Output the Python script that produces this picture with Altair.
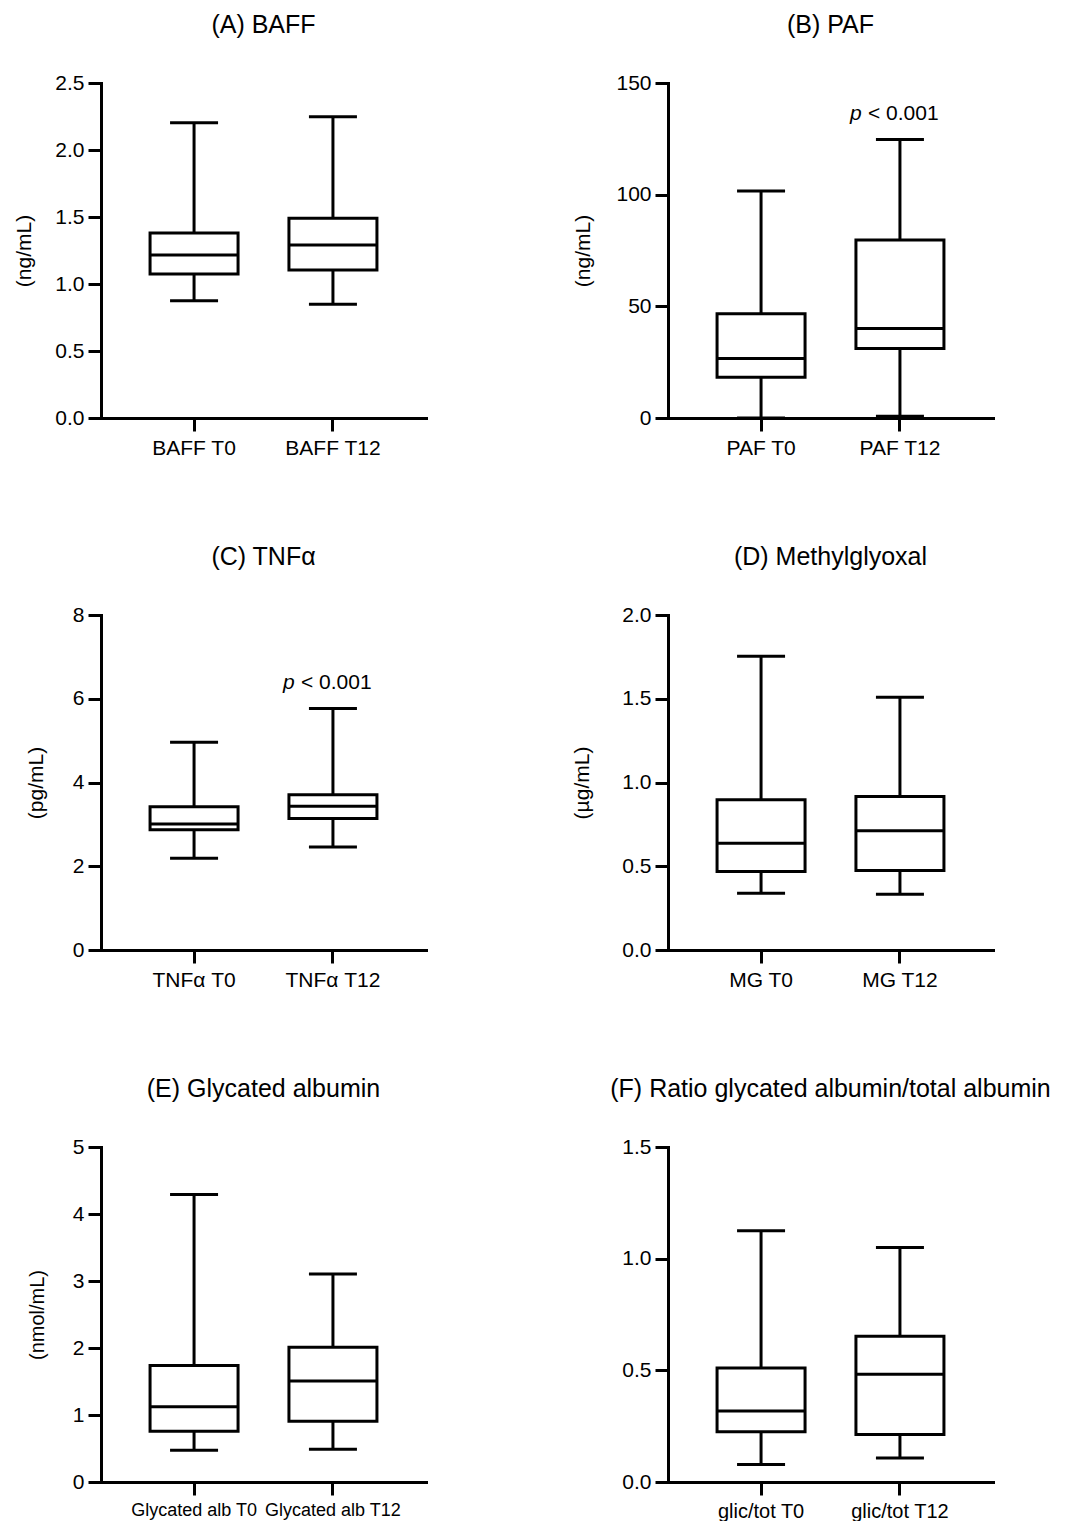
import altair as alt
import pandas as pd

FONT = "Liberation Sans"

# ---------------- data ----------------
baff_cats = ["BAFF T0", "BAFF T12"]
baff_min = [0.875, 0.848]
baff_q1 = [1.075, 1.104]
baff_med = [1.216, 1.291]
baff_q3 = [1.38, 1.49]
baff_max = [2.204, 2.249]
baff_ticks = [0.0, 0.5, 1.0, 1.5, 2.0, 2.5]

paf_cats = ["PAF T0", "PAF T12"]
paf_min = [0.0, 0.8]
paf_q1 = [18.2, 31.1]
paf_med = [26.6, 40.1]
paf_q3 = [46.7, 79.7]
paf_max = [101.6, 124.7]
paf_ticks = [0, 50, 100, 150]

tnf_cats = ["TNFα T0", "TNFα T12"]
tnf_min = [2.19, 2.46]
tnf_q1 = [2.87, 3.14]
tnf_med = [3.01, 3.43]
tnf_q3 = [3.42, 3.71]
tnf_max = [4.96, 5.77]
tnf_ticks = [0, 2, 4, 6, 8]

mg_cats = ["MG T0", "MG T12"]
mg_min = [0.339, 0.333]
mg_q1 = [0.468, 0.474]
mg_med = [0.638, 0.712]
mg_q3 = [0.897, 0.917]
mg_max = [1.754, 1.509]
mg_ticks = [0.0, 0.5, 1.0, 1.5, 2.0]

ga_cats = ["Glycated alb T0", "Glycated alb T12"]
ga_min = [0.474, 0.489]
ga_q1 = [0.759, 0.908]
ga_med = [1.123, 1.507]
ga_q3 = [1.737, 2.012]
ga_max = [4.29, 3.105]
ga_ticks = [0, 1, 2, 3, 4, 5]

ratio_cats = ["glic/tot T0", "glic/tot T12"]
ratio_min = [0.078, 0.108]
ratio_q1 = [0.225, 0.213]
ratio_med = [0.318, 0.483]
ratio_q3 = [0.51, 0.653]
ratio_max = [1.125, 1.05]
ratio_ticks = [0.0, 0.5, 1.0, 1.5]

pval_text = ["p", "< 0.001"]
paf_pval_y = [133.4]
tnf_pval_y = [6.23]

W, H = 325, 335
LW = 3


def panel(title, cats, mins, q1s, meds, q3s, maxs, ticks, fmt, ytitle, title_x,
          xlabel_size=21, ytitle_size=21, pval_y=None):
    df = pd.DataFrame({"cat": cats, "mn": mins, "q1": q1s, "med": meds,
                       "q3": q3s, "mx": maxs})
    xenc = alt.X("cat:N", sort=cats,
                 scale=alt.Scale(domain=cats, paddingInner=0.5, paddingOuter=0.42),
                 axis=alt.Axis(title=None, labelAngle=0, labelFontSize=xlabel_size,
                               labelPadding=6, labelFont=FONT, labelColor="black"))
    yscale = alt.Scale(domain=[ticks[0], ticks[-1]], nice=False, zero=True)
    axis_kw = dict(values=ticks, format=fmt, labelFontSize=21, labelFont=FONT,
                   labelColor="black", labelPadding=4)
    if ytitle:
        axis_kw.update(title=ytitle, titleX=title_x, titleY=H / 2, titleAngle=-90,
                       titleAlign="center", titleBaseline="middle",
                       titleFontSize=ytitle_size, titleFont=FONT,
                       titleFontWeight="normal", titleColor="black")
    else:
        axis_kw.update(title=None)
    yaxis = alt.Axis(**axis_kw)

    base = alt.Chart(df)
    whisk = base.mark_rule(color="black", strokeWidth=LW).encode(
        x=xenc, y=alt.Y("mn:Q", scale=yscale, axis=yaxis), y2="mx:Q")
    box = base.mark_bar(fill="white", stroke="black", strokeWidth=LW, size=88,
                        opacity=1).encode(x=xenc, y=alt.Y("q1:Q", scale=yscale), y2="q3:Q")
    med = base.mark_tick(color="black", size=88, thickness=LW, opacity=1).encode(
        x=xenc, y=alt.Y("med:Q", scale=yscale))
    cap_lo = base.mark_tick(color="black", size=48, thickness=LW, opacity=1).encode(
        x=xenc, y=alt.Y("mn:Q", scale=yscale))
    cap_hi = base.mark_tick(color="black", size=48, thickness=LW, opacity=1).encode(
        x=xenc, y=alt.Y("mx:Q", scale=yscale))
    layers = [whisk, box, med, cap_lo, cap_hi]
    if pval_y is not None:
        pdf = pd.DataFrame({"cat": [cats[1]], "y": pval_y,
                            "sym": [pval_text[0]], "rest": [pval_text[1]]})
        pb = alt.Chart(pdf)
        layers.append(pb.mark_text(fontStyle="italic", align="left", baseline="alphabetic",
                                   dx=-50, fontSize=21, font=FONT, color="black").encode(
            x=xenc, y=alt.Y("y:Q", scale=yscale), text="sym:N"))
        layers.append(pb.mark_text(align="left", baseline="alphabetic",
                                   dx=-32, fontSize=21, font=FONT, color="black").encode(
            x=xenc, y=alt.Y("y:Q", scale=yscale), text="rest:N"))
    return alt.layer(*layers).properties(
        width=W, height=H,
        title=alt.TitleParams(title, fontSize=25, font=FONT, fontWeight="normal",
                              color="black", anchor="middle", baseline="alphabetic",
                              offset=14))


pA = panel("(A) BAFF", baff_cats, baff_min, baff_q1, baff_med, baff_q3, baff_max,
           baff_ticks, ".1f", "(ng/mL)", -77)
pB = panel("(B) PAF", paf_cats, paf_min, paf_q1, paf_med, paf_q3, paf_max,
           paf_ticks, "d", "(ng/mL)", -85, pval_y=paf_pval_y)
pC = panel("(C) TNFα", tnf_cats, tnf_min, tnf_q1, tnf_med, tnf_q3, tnf_max,
           tnf_ticks, "d", "(pg/mL)", -65, pval_y=tnf_pval_y)
pD = panel("(D) Methylglyoxal", mg_cats, mg_min, mg_q1, mg_med, mg_q3, mg_max,
           mg_ticks, ".1f", "(µg/mL)", -86)
pE = panel("(E) Glycated albumin", ga_cats, ga_min, ga_q1, ga_med, ga_q3, ga_max,
           ga_ticks, "d", "(nmol/mL)", -64, xlabel_size=18, ytitle_size=20)
pF = panel("(F) Ratio glycated albumin/total albumin", ratio_cats, ratio_min, ratio_q1,
           ratio_med, ratio_q3, ratio_max, ratio_ticks, ".1f", None, 0, xlabel_size=20)

chart = alt.concat(pA, pB, pC, pD, pE, pF, columns=2,
                   spacing={"row": 197, "column": 242}).properties(
    bounds="flush", background="white"
).configure_view(stroke=None).configure_axis(
    domainColor="black", domainWidth=LW, tickColor="black", tickWidth=LW,
    tickSize=13, grid=False, domainCap="square"
)

chart.save("out.html", embed_options={"renderer": "svg", "actions": False})
